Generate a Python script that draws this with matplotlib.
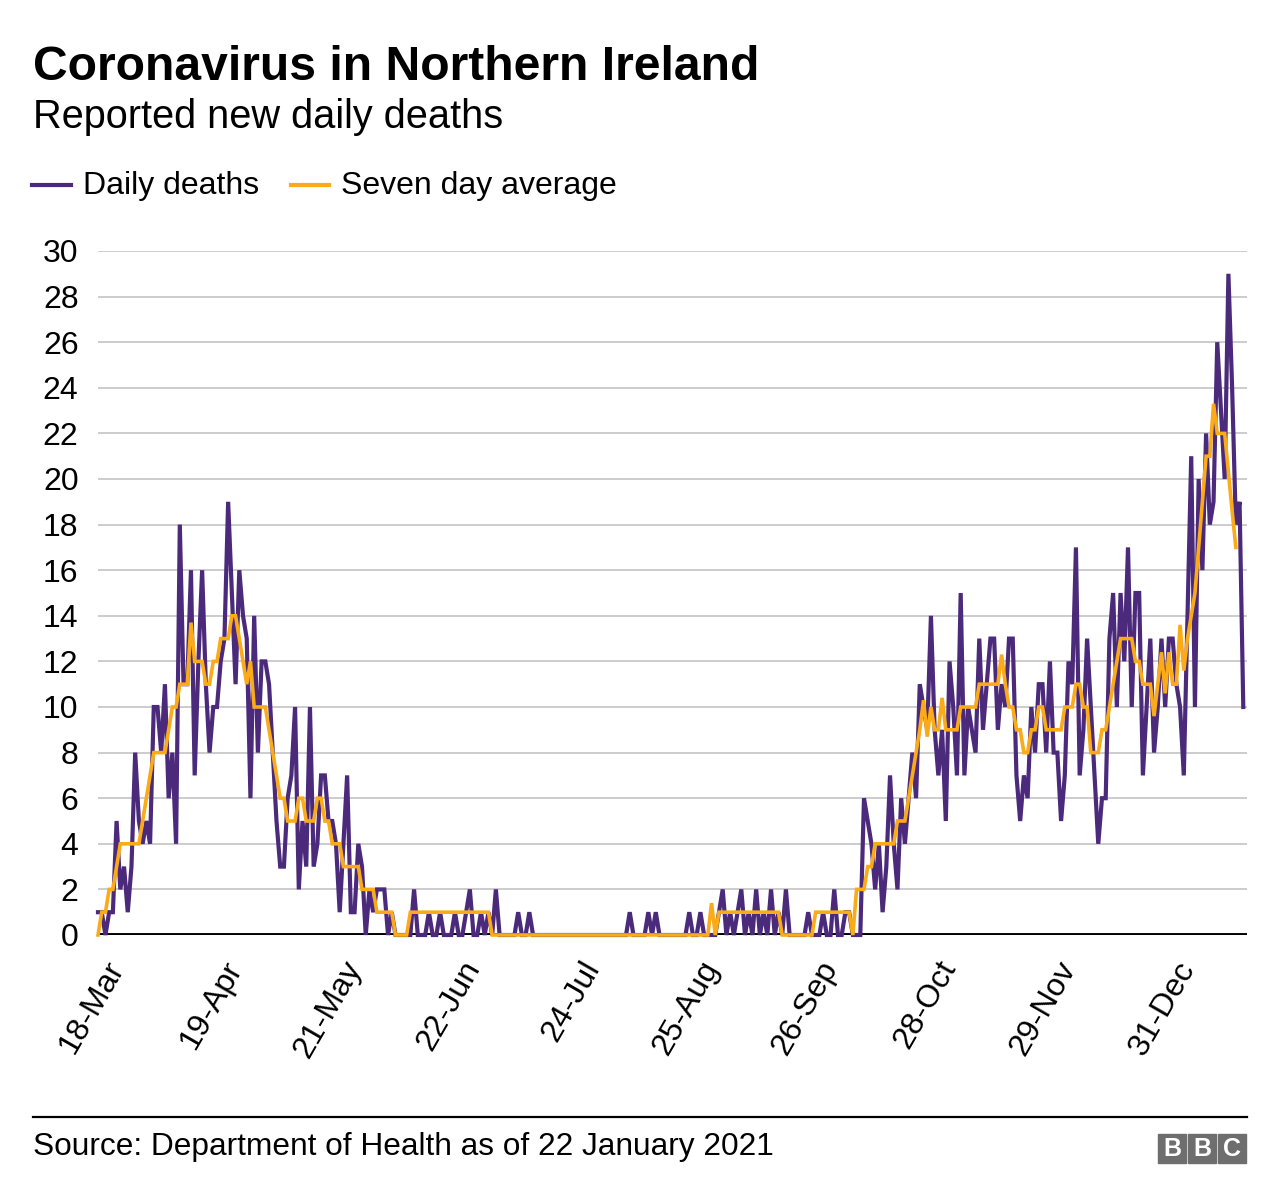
import matplotlib
matplotlib.use("Agg")
import matplotlib.pyplot as plt
import matplotlib.transforms as mtransforms
from matplotlib.lines import Line2D
from matplotlib.patches import Rectangle

plt.rcParams['font.family'] = ['Liberation Sans', 'DejaVu Sans']

# daily deaths, one value per day from 18 Mar 2020
daily = [
    1, 1, 0, 1, 1, 5, 2, 3, 1, 3,
    8, 5, 4, 5, 4, 10, 10, 8, 11, 6,
    8, 4, 18, 11, 11, 16, 7, 12, 16, 11,
    8, 10, 10, 12, 13, 19, 15, 11, 16, 14,
    13, 6, 14, 8, 12, 12, 11, 8, 5, 3,
    3, 6, 7, 10, 2, 5, 3, 10, 3, 4,
    7, 7, 5, 5, 4, 1, 4, 7, 1, 1,
    4, 3, 0, 2, 1, 2, 2, 2, 0, 1,
    0, 0, 0, 0, 0, 2, 0, 0, 0, 1,
    0, 0, 1, 0, 0, 0, 1, 0, 0, 1,
    2, 0, 0, 1, 0, 1, 0, 2, 0, 0,
    0, 0, 0, 1, 0, 0, 1, 0, 0, 0,
    0, 0, 0, 0, 0, 0, 0, 0, 0, 0,
    0, 0, 0, 0, 0, 0, 0, 0, 0, 0,
    0, 0, 0, 1, 0, 0, 0, 0, 1, 0,
    1, 0, 0, 0, 0, 0, 0, 0, 0, 1,
    0, 0, 1, 0, 0, 0, 0, 1, 2, 0,
    1, 0, 1, 2, 0, 1, 0, 2, 0, 1,
    0, 2, 0, 1, 0, 2, 0, 0, 0, 0,
    0, 1, 0, 0, 0, 1, 0, 0, 2, 0,
    0, 1, 1, 0, 0, 0, 6, 5, 4, 2,
    4, 1, 3, 7, 4, 2, 6, 4, 6, 8,
    6, 11, 10, 9, 14, 9, 7, 9, 5, 12,
    10, 7, 15, 7, 10, 9, 8, 13, 9, 11,
    13, 13, 9, 11, 10, 13, 13, 7, 5, 7,
    6, 10, 8, 11, 11, 8, 12, 8, 8, 5,
    7, 12, 11, 17, 7, 9, 13, 10, 7, 4,
    6, 6, 13, 15, 10, 15, 12, 17, 10, 15,
    15, 7, 10, 13, 8, 10, 13, 10, 13, 13,
    11, 10, 7, 14, 21, 10, 20, 16, 22, 18,
    19, 26, 23, 20, 29, 24, 18, 19, 10,
]

# seven day average as drawn (stops a couple of days before the daily series)
avg7 = [
    0, 1, 1, 2, 2, 3, 4, 4, 4, 4,
    4, 4, 5, 6, 7, 8, 8, 8, 8, 9,
    10, 10, 11, 11, 11, 13.7, 12, 12, 12, 11,
    11, 12, 12, 13, 13, 13, 14, 14, 13, 12,
    11, 12, 10, 10, 10, 10, 9, 8, 7, 6,
    6, 5, 5, 5, 6, 6, 5, 5, 5, 6,
    6, 5, 5, 4, 4, 4, 3, 3, 3, 3,
    3, 2, 2, 2, 2, 1, 1, 1, 1, 1,
    0, 0, 0, 0, 1, 1, 1, 1, 1, 1,
    1, 1, 1, 1, 1, 1, 1, 1, 1, 1,
    1, 1, 1, 1, 1, 1, 0, 0, 0, 0,
    0, 0, 0, 0, 0, 0, 0, 0, 0, 0,
    0, 0, 0, 0, 0, 0, 0, 0, 0, 0,
    0, 0, 0, 0, 0, 0, 0, 0, 0, 0,
    0, 0, 0, 0, 0, 0, 0, 0, 0, 0,
    0, 0, 0, 0, 0, 0, 0, 0, 0, 0,
    0, 0, 0, 0, 0, 1.4, 0, 1, 1, 1,
    1, 1, 1, 1, 1, 1, 1, 1, 1, 1,
    1, 1, 1, 1, 0, 0, 0, 0, 0, 0,
    0, 0, 0, 1, 1, 1, 1, 1, 1, 1,
    1, 1, 1, 0, 2, 2, 2, 3, 3, 4,
    4, 4, 4, 4, 4, 5, 5, 5, 6, 7,
    8, 9, 10.3, 8.7, 10, 9, 9, 10.4, 9, 9,
    9, 9, 10, 10, 10, 10, 10, 11, 11, 11,
    11, 11, 11, 12.3, 11, 10, 10, 9, 9, 8,
    8, 9, 9, 10, 10, 9, 9, 9, 9, 9,
    10, 10, 10, 11, 11, 10, 10, 8, 8, 8,
    9, 9, 10, 11, 12, 13, 13, 13, 13, 12,
    12, 11, 11, 11, 9.6, 11, 12.4, 10.6, 12.4, 11,
    11, 13.6, 11.6, 13, 14, 15, 17, 19, 21, 21,
    23.3, 22, 22, 22, 20.3, 18.6, 17,
]

tick_labels = ["18-Mar", "19-Apr", "21-May", "22-Jun", "24-Jul",
               "25-Aug", "26-Sep", "28-Oct", "29-Nov", "31-Dec"]
tick_step = 32  # days between labels

PURPLE = "#4b2a7b"
ORANGE = "#fbab18"
W, H = 1280, 1204

fig = plt.figure(figsize=(W / 100, H / 100), dpi=100)
ax = fig.add_axes([98 / W, 1 - 935 / H, 1149 / W, 684 / H])

ax.plot(range(len(daily)), daily, color=PURPLE, lw=3.0,
        solid_joinstyle="miter", clip_on=False, zorder=3)
ax.plot(range(len(avg7)), avg7, color=ORANGE, lw=2.6,
        solid_joinstyle="miter", clip_on=False, zorder=4)
ax.axhline(0, color="black", lw=2.8, zorder=2)

ax.set_xlim(0, len(daily))
ax.set_ylim(0, 30)
ax.set_yticks(range(0, 31, 2))
ax.grid(axis="y", color="#cccccc", lw=1.4)
ax.set_axisbelow(True)
for s in ax.spines.values():
    s.set_visible(False)

ax.set_xticks(range(0, tick_step * len(tick_labels), tick_step))
ax.set_xticklabels(tick_labels, rotation=60, ha="right", va="top",
                   rotation_mode="anchor")
ax.tick_params(axis="both", length=0, labelsize=23)
ax.tick_params(axis="y", pad=14)
ax.tick_params(axis="x", pad=15)
# nudge the rotated date labels a little to the right
shift = mtransforms.ScaledTranslation(6 / 100, 0, fig.dpi_scale_trans)
for lab in ax.get_xticklabels():
    lab.set_transform(lab.get_transform() + shift)

# titles
fig.text(33 / W, 1 - 80 / H, "Coronavirus in Northern Ireland",
         fontsize=34.6, fontweight="bold", va="baseline")
fig.text(33 / W, 1 - 128 / H, "Reported new daily deaths",
         fontsize=28.6, va="baseline")

# legend
fig.add_artist(Line2D([32 / W, 71 / W], [1 - 185 / H] * 2, color=PURPLE, lw=3.0))
fig.text(83 / W, 1 - 186 / H, "Daily deaths", fontsize=23, va="center")
fig.add_artist(Line2D([291 / W, 329 / W], [1 - 185 / H] * 2, color=ORANGE, lw=3.0))
fig.text(341 / W, 1 - 186 / H, "Seven day average", fontsize=23, va="center")

# footer
fig.add_artist(Line2D([33 / W, 1247 / W], [1 - 1117 / H] * 2, color="black", lw=1.6))
fig.text(33 / W, 1 - 1155 / H, "Source: Department of Health as of 22 January 2021",
         fontsize=22.8, va="baseline")
for i, letter in enumerate("BBC"):
    x0 = 1158 + i * 30
    fig.add_artist(Rectangle((x0 / W, 1 - 1163 / H), 28 / W, 29 / H,
                             transform=fig.transFigure, color="#6e6e6e"))
    fig.text((x0 + 14) / W, 1 - 1148.5 / H, letter, color="white",
             fontsize=18, fontweight="bold", ha="center", va="center")

fig.savefig("out.png", dpi=100)
